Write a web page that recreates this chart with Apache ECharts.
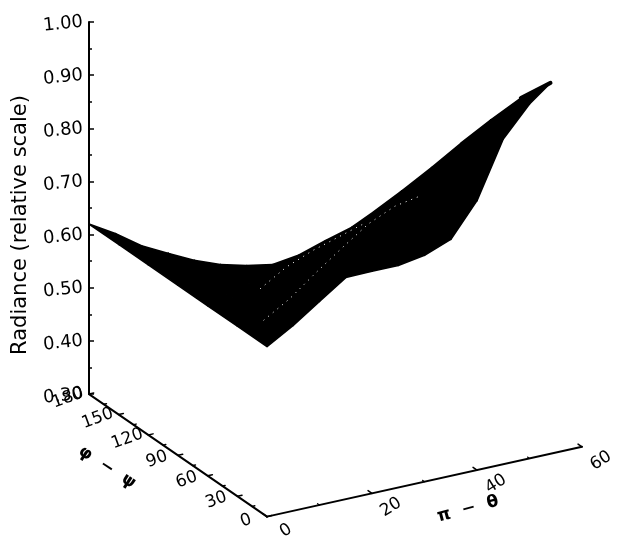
<!DOCTYPE html>
<html><head><meta charset="utf-8">
<style>html,body{margin:0;padding:0;background:#fff}#c{width:622px;height:538px}</style>
<script src="https://cdn.jsdelivr.net/npm/echarts@6/dist/echarts.min.js"></script>
</head><body><div id="c"></div>
<script>
const piThetaTicks = [0, 20, 40, 60];
const phiTicks = [0, 30, 60, 90, 120, 150, 180];
const piThetaMinor = [10, 30, 50];
const phiMinor = [15, 45, 75, 105, 135, 165];
const phiGrid = [180, 150, 120, 90, 60, 30, 0];
const piThetaGrid = [0, 5, 10, 15, 20, 25, 30, 35, 40, 45, 50, 54];
const r0  = [.620,.620,.620,.620,.620,.620,.620];
const r5  = [.591,.595,.602,.612,.622,.620,.649];
const r10 = [.557,.565,.580,.600,.630,.650,.683];
const r15 = [.532,.545,.565,.590,.660,.688,.717];
const r20 = [.508,.525,.550,.585,.680,.724,.718];
const r25 = [.489,.510,.540,.580,.695,.758,.718];
const r30 = [.476,.500,.535,.580,.710,.780,.726];
const r35 = [.467,.500,.540,.590,.730,.789,.745];
const r40 = [.474,.515,.560,.610,.760,.800,.807];
const r45 = [.490,.540,.595,.660,.780,.850,.912];
const r50 = [.504,.570,.640,.715,.810,.900,.967];
const r54 = [.523,.603,.685,.770,.852,.931,.998];
const radiance = [r0,r5,r10,r15,r20,r25,r30,r35,r40,r45,r50,r54];
const labelFont = '"DejaVu Sans", sans-serif';

// oblique projection of (pi-theta, phi, radiance) into the hidden x axis and the radiance axis
function proj(pt, ph, r) {
  return [178 + 5.25 * pt - 0.989 * ph, r + (1.167 * pt + 0.683 * ph - 123) / 533];
}
const black = '#000';
function lineEl(api, a, b, w) {
  const p = api.coord(a), q = api.coord(b);
  return {type:'line', shape:{x1:p[0],y1:p[1],x2:q[0],y2:q[1]}, style:{stroke:black,lineWidth:w,lineCap:'round'}};
}
function textEl(api, at, dx, dy, text, deg, size, weight) {
  const p = api.coord(at);
  return {type:'text', x:p[0]+dx, y:p[1]+dy, rotation:deg*Math.PI/180,
    style:{text, fill:black, font:(weight||'normal')+' '+size+'px '+labelFont, align:'center', verticalAlign:'middle'}};
}
const quads = [];
piThetaGrid.slice(0,-1).forEach((pt,i)=>{ phiGrid.slice(0,-1).forEach((ph,j)=>{
  quads.push([i,j]);
});});
const surface = {type:'custom', coordinateSystem:'cartesian2d', clip:false, z:3, data:quads,
  renderItem(params, api){
    const [i,j] = quads[params.dataIndex];
    const c = (a,b)=>api.coord(proj(piThetaGrid[a],phiGrid[b],radiance[a][b]));
    return {type:'polygon', shape:{points:[c(i,j),c(i+1,j),c(i+1,j+1),c(i,j+1)]},
      style:{fill:black,stroke:black,lineWidth:1.6,lineJoin:'round'}};
  }};
// thick rounded end of the far edge of the sheet
const tip = {type:'line', symbol:'none', z:3, clip:false, silent:true,
  lineStyle:{color:black,width:4,cap:'round'},
  data:[proj(54,30,r54[5]),proj(54,0,r54[6])]};
// faint gaps in the mesh along constant-phi lines
const speckLines = [[5,1,7],[4,2,6]]; // column index in phiGrid, start/end index in piThetaGrid
const specks = {type:'line', silent:true, symbol:'none', z:4, clip:false,
  lineStyle:{color:'#fff',width:1,type:[1,5]}};
const speckSeries = speckLines.map(([col,a,b])=>({...specks,
  data:piThetaGrid.slice(a,b+1).map((pt,k)=>proj(pt,phiGrid[col],radiance[a+k][col]))}));
const axes = {type:'custom', coordinateSystem:'cartesian2d', clip:false, z:2, data:[0],
  renderItem(params, api){
    const ch = [];
    const o = proj(0,0,.3);
    ch.push(lineEl(api,o,proj(60,0,.3),2));
    ch.push(lineEl(api,o,proj(0,180,.3),2));
    phiTicks.forEach(v=>{ ch.push(lineEl(api,proj(0,v,.3),proj(.9,v,.3),1.5)); });
    phiMinor.forEach(v=>{ ch.push(lineEl(api,proj(0,v,.3),proj(.5,v,.3),1.5)); });
    piThetaTicks.forEach(v=>{ ch.push(lineEl(api,proj(v,0,.3),proj(v,4,.3),1.5)); });
    piThetaMinor.forEach(v=>{ ch.push(lineEl(api,proj(v,0,.3),proj(v,2,.3),1.2)); });
    phiTicks.forEach(v=>{ ch.push(textEl(api,proj(0,v,.3),-21,4,String(v),20,17)); });
    piThetaTicks.forEach(v=>{ ch.push(textEl(api,proj(v,0,.3),19,14,String(v),32,17)); });
    ch.push(textEl(api,proj(0,90,.3),-71,12,'φ  −  ψ',-33,17,'bold'));
    ch.push(textEl(api,proj(40,0,.3),-9,39,'π  −  θ',15,17,'bold'));
    return {type:'group',children:ch};
  }};
const chart = echarts.init(document.getElementById('c'),null,{renderer:'canvas'});
chart.setOption({
  animation:false, backgroundColor:'#fff',
  grid:{left:89,top:22,width:533,height:372,containLabel:false},
  xAxis:{type:'value',min:0,max:533,show:false},
  yAxis:{type:'value',min:.3,max:1,interval:.1,
    axisLine:{show:true,onZero:false,lineStyle:{color:black,width:2}},
    axisTick:{show:true,inside:true,length:5,lineStyle:{color:black,width:1.5}},
    minorTick:{show:true,splitNumber:2,length:3,lineStyle:{color:black,width:1.5}},
    splitLine:{show:false},minorSplitLine:{show:false},
    axisLabel:{formatter:v=>v.toFixed(2),color:black,fontSize:18,fontFamily:labelFont,margin:6,rotate:6},
    name:'Radiance (relative scale)',nameLocation:'middle',nameGap:55,nameRotate:90,
    nameTextStyle:{color:black,fontSize:21,fontFamily:labelFont,padding:[0,34,0,0]}},
  series:[axes,surface,tip,...speckSeries]
});
</script></body></html>
